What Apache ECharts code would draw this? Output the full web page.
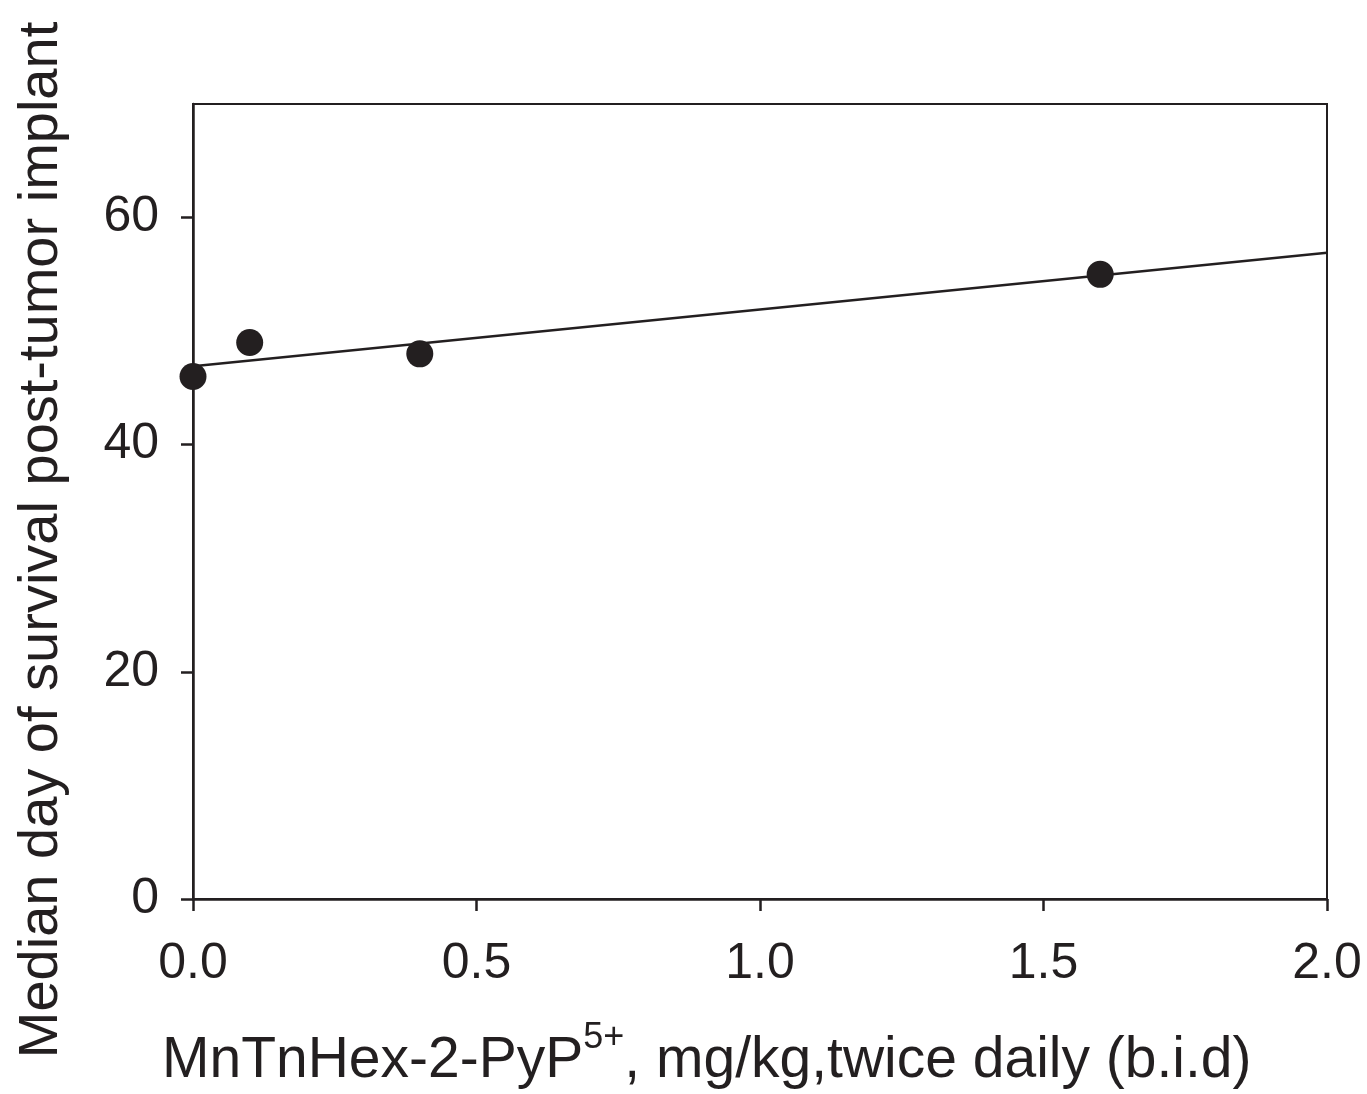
<!DOCTYPE html>
<html>
<head>
<meta charset="utf-8">
<script src="https://cdn.jsdelivr.net/npm/echarts@6/dist/echarts.min.js"></script>
<style>
  html, body { margin: 0; padding: 0; background: #fff; }
  #chart { width: 1367px; height: 1094px; }
</style>
</head>
<body>
<div id="chart"></div>
<script>
// 剂量 (mg/kg, b.i.d) 与中位生存天数
const doses = [0, 0.1, 0.4, 1.6];
const medianDays = [46, 49, 48, 55];
// 回归直线两端
const fitX = [0, 2.0];
const fitY = [46.9, 56.9];
const xTicks = ['0.0', '0.5', '1.0', '1.5', '2.0'];
const yTicks = [0, 20, 40, 60];

const INK = '#231f20';
const FONT = '"Liberation Sans", Arial, sans-serif';

const chart = echarts.init(document.getElementById('chart'), null, { renderer: 'canvas' });

chart.setOption({
  animation: false,
  backgroundColor: '#fff',
  grid: {
    left: 193, right: 40, top: 104, bottom: 195,
    show: true, borderColor: INK, borderWidth: 2, backgroundColor: 'transparent'
  },
  xAxis: {
    type: 'value',
    min: 0, max: 2.0, interval: 0.5,
    axisLine: { lineStyle: { color: INK, width: 2.5 } },
    axisTick: { show: true, length: 12, inside: false, lineStyle: { color: INK, width: 2.5 } },
    axisLabel: {
      color: INK, fontFamily: FONT, fontSize: 50, margin: 40,
      formatter: (v) => xTicks[Math.round(v / 0.5)]
    },
    splitLine: { show: false }
  },
  yAxis: {
    type: 'value',
    min: 0, max: 70,
    axisLine: { show: true, lineStyle: { color: INK, width: 2.5 } },
    axisTick: { show: true, length: 12, inside: false, customValues: yTicks, lineStyle: { color: INK, width: 2.5 } },
    axisLabel: {
      color: INK, fontFamily: FONT, fontSize: 50, margin: 34,
      customValues: yTicks
    },
    splitLine: { show: false }
  },
  graphic: [
    {
      type: 'text',
      left: 162, top: 1020,
      style: {
        text: '{a|MnTnHex-2-PyP}{s|5+}{a|, mg/kg,twice daily (b.i.d)}',
        fill: INK,
        rich: {
          a: { fontFamily: FONT, fontSize: 57, fill: INK, verticalAlign: 'bottom', lineHeight: 70 },
          s: { fontFamily: FONT, fontSize: 36, fill: INK, verticalAlign: 'top', lineHeight: 70, padding: [0, 0, 30, 0] }
        }
      }
    },
    {
      type: 'text',
      x: 42, y: 540,
      rotation: Math.PI / 2,
      style: {
        text: 'Median day of survival post-tumor implant',
        fontFamily: FONT, fontSize: 56, fill: INK,
        align: 'center', verticalAlign: 'middle'
      }
    }
  ],
  series: [
    {
      type: 'line',
      data: fitX.map((x, i) => [x, fitY[i]]),
      showSymbol: false,
      lineStyle: { color: INK, width: 2.5 },
      z: 2
    },
    {
      type: 'scatter',
      data: doses.map((x, i) => [x, medianDays[i]]),
      symbol: 'circle',
      symbolSize: 27,
      itemStyle: { color: INK, opacity: 1 },
      z: 3
    }
  ]
});
</script>
</body>
</html>
